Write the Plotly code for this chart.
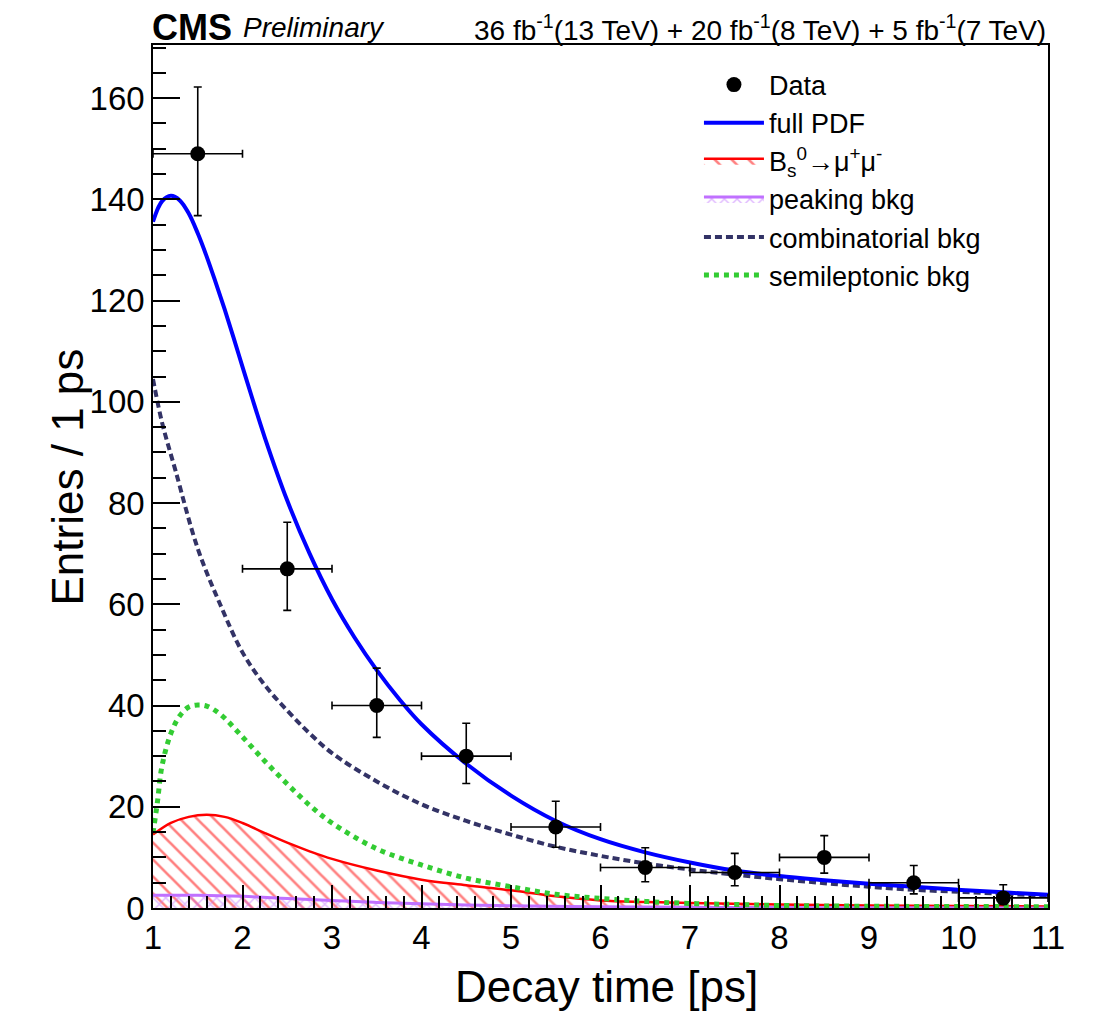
import plotly.graph_objects as go

# ---- data points (bin centres, counts, asymmetric errors) ----
data_x = [1.5, 2.5, 3.5, 4.5, 5.5, 6.5, 7.5, 8.5, 9.5, 10.5]
data_y = [149, 67, 40, 30, 16, 8, 7, 10, 5, 2]
data_err_up = [13.2, 9.2, 7.4, 6.5, 5.1, 3.9, 3.8, 4.3, 3.4, 2.6]
data_err_dn = [12.2, 8.2, 6.3, 5.4, 4.0, 2.8, 2.6, 3.1, 2.2, 1.3]
bin_halfwidth = [0.5] * len(data_x)

# ---- fitted components ----
full_x = [1.0, 1.1, 1.2, 1.3, 1.4, 1.5, 1.6, 1.7, 1.8, 1.9, 2.0, 2.1, 2.25, 2.5, 2.75, 3.0,
          3.25, 3.5, 3.75, 4.0, 4.5, 5.0, 5.5, 6.0, 6.5, 7.0, 7.5, 8.0, 8.5, 9.0, 9.5, 10.0,
          10.5, 11.0]
full_y = [135.6, 139.6, 140.7, 139.8, 137.2, 133.3, 128.7, 123.6, 118.3, 112.7, 106.9, 101.2,
          92.9, 80.5, 70.0, 61.0, 53.5, 47.0, 41.3, 36.3, 28.5, 22.2, 17.2, 13.6, 11.0, 9.0,
          7.4, 6.3, 5.5, 4.8, 4.2, 3.6, 3.1, 2.6]

comb_x = [1.0, 1.1, 1.25, 1.5, 1.75, 2.0, 2.25, 2.5, 2.75, 3.0, 3.5, 4.0, 4.5, 5.0, 5.5,
          6.0, 6.5, 7.0, 7.5, 8.0, 8.5, 9.0, 9.5, 10.0, 10.5, 11.0]
comb_y = [104.5, 96.0, 86.5, 71.0, 60.0, 50.5, 44.0, 39.0, 34.5, 30.6, 25.0, 20.5, 17.2, 14.5,
          12.1, 10.3, 8.8, 7.6, 6.6, 5.7, 4.9, 4.2, 3.6, 3.2, 2.8, 2.4]

semi_x = [1.0, 1.05, 1.1, 1.2, 1.3, 1.4, 1.5, 1.6, 1.75, 2.0, 2.25, 2.5, 2.75, 3.0, 3.5,
          4.0, 4.5, 5.0, 5.5, 6.0, 6.5, 7.0, 7.5, 8.0, 9.0, 10.0, 11.0]
semi_y = [14.8, 21.0, 28.0, 34.5, 38.0, 39.7, 40.1, 39.9, 38.3, 33.8, 29.0, 24.5, 20.3, 16.8,
          11.7, 8.5, 5.9, 4.2, 2.7, 1.9, 1.3, 0.9, 0.7, 0.5, 0.35, 0.3, 0.25]

sig_x = [1.0, 1.2, 1.4, 1.6, 1.8, 2.0, 2.25, 2.5, 2.75, 3.0, 3.5, 4.0, 4.5, 5.0, 5.5,
         6.0, 6.5, 7.0, 8.0, 9.0, 10.0, 11.0]
sig_y = [14.5, 16.8, 18.0, 18.4, 18.0, 16.8, 14.8, 12.9, 11.2, 9.7, 7.4, 5.6, 4.5, 3.5, 2.3,
         1.5, 1.2, 1.0, 0.7, 0.5, 0.4, 0.3]

peak_x = [1.0, 1.5, 2.0, 2.5, 3.0, 3.5, 4.0, 4.5, 5.0, 6.0, 7.0, 8.0, 9.0, 10.0, 11.0]
peak_y = [2.5, 2.5, 2.3, 1.9, 1.5, 1.1, 0.85, 0.6, 0.45, 0.25, 0.15, 0.1, 0.05, 0.03, 0.02]

x_ticks = [1, 2, 3, 4, 5, 6, 7, 8, 9, 10, 11]
y_ticks = [0, 20, 40, 60, 80, 100, 120, 140, 160]

FONT = "Liberation Sans, Arial, Helvetica, sans-serif"
BLUE = "#0000ff"
NAVY = "#333366"
GREEN = "#33cc33"
RED = "#ff0000"
VIOLET = "#c070ff"

fig = go.Figure()

fig.add_trace(go.Scatter(
    x=sig_x, y=sig_y, mode="lines", line=dict(color=RED, width=2.5, shape="spline"),
    fill="tozeroy", fillcolor="rgba(255,255,255,0)",
    fillpattern=dict(shape="\\", fgcolor=RED, bgcolor="rgba(0,0,0,0)", size=12, solidity=0.22),
    name="B<sub>s</sub><sup>0</sup>→μ<sup>+</sup>μ<sup>-</sup>", legendrank=3))

fig.add_trace(go.Scatter(
    x=peak_x, y=peak_y, mode="lines", line=dict(color=VIOLET, width=3, shape="spline"),
    fill="tozeroy", fillcolor="rgba(255,255,255,0)",
    fillpattern=dict(shape="x", fgcolor=VIOLET, bgcolor="rgba(0,0,0,0)", size=9, solidity=0.3),
    name="peaking bkg", legendrank=4))

fig.add_trace(go.Scatter(
    x=comb_x, y=comb_y, mode="lines",
    line=dict(color=NAVY, width=4, dash="7px,4px", shape="spline"),
    name="combinatorial bkg", legendrank=5))

fig.add_trace(go.Scatter(
    x=semi_x, y=semi_y, mode="lines",
    line=dict(color=GREEN, width=5, dash="5px,5px", shape="spline"),
    name="semileptonic bkg", legendrank=6))

fig.add_trace(go.Scatter(
    x=full_x, y=full_y, mode="lines", line=dict(color=BLUE, width=4, shape="spline"),
    name="full PDF", legendrank=2))

fig.add_trace(go.Scatter(
    x=data_x, y=data_y, mode="markers",
    marker=dict(color="black", size=15),
    error_x=dict(type="data", array=bin_halfwidth, color="black", thickness=1.6, width=4),
    error_y=dict(type="data", symmetric=False, array=data_err_up, arrayminus=data_err_dn,
                 color="black", thickness=1.6, width=4),
    name="Data", legendrank=1))

# page body adds an 8px offset; figure sized to fill the rest of the window
fig.update_layout(
    width=1106, height=1009,
    margin=dict(l=145, r=66, t=37, b=109),
    paper_bgcolor="white", plot_bgcolor="white",
    font=dict(family=FONT, color="black"),
    showlegend=True,
    legend=dict(x=0.61, y=0.982, xanchor="left", yanchor="top",
                font=dict(size=27, family=FONT), bgcolor="rgba(255,255,255,0)",
                borderwidth=0, itemwidth=60, tracegroupgap=0),
)

fig.update_xaxes(
    range=[1, 11], tickvals=x_ticks, ticktext=[str(v) for v in x_ticks],
    ticks="inside", ticklen=23, tickwidth=1.5, tickcolor="black",
    minor=dict(dtick=0.2, ticks="inside", ticklen=12, tickwidth=1.5, tickcolor="black", showgrid=False),
    showline=True, linecolor="black", linewidth=1.5, mirror=True,
    showgrid=False, zeroline=False, tickfont=dict(size=33, family=FONT),
)
fig.update_yaxes(
    range=[0, 170.5], tickvals=y_ticks, ticktext=[str(v) for v in y_ticks],
    ticks="inside", ticklen=27, tickwidth=1.5, tickcolor="black",
    minor=dict(dtick=5, ticks="inside", ticklen=13, tickwidth=1.5, tickcolor="black", showgrid=False),
    showline=True, linecolor="black", linewidth=1.5, mirror=True,
    showgrid=False, zeroline=False, tickfont=dict(size=33, family=FONT),
)

ann = [
    dict(text="Decay time [ps]", x=0.507, y=-0.0915, xref="paper", yref="paper",
         xanchor="center", yanchor="middle", showarrow=False, font=dict(size=44, family=FONT)),
    dict(text="Entries / 1 ps", x=-0.095, y=0.5, xref="paper", yref="paper", textangle=-90,
         xanchor="center", yanchor="middle", showarrow=False, font=dict(size=44, family=FONT)),
    dict(text="<b>CMS</b>", x=-0.003, y=1.02, xref="paper", yref="paper",
         xanchor="left", yanchor="middle", showarrow=False, font=dict(size=36, family=FONT)),
    dict(text="<i>Preliminary</i>", x=0.098, y=1.02, xref="paper", yref="paper",
         xanchor="left", yanchor="middle", showarrow=False, font=dict(size=28, family=FONT)),
    dict(text="36 fb<sup>-1</sup>(13 TeV) + 20 fb<sup>-1</sup>(8 TeV) + 5 fb<sup>-1</sup>(7 TeV)",
         x=1.0, y=1.02, xref="paper", yref="paper",
         xanchor="right", yanchor="middle", showarrow=False, font=dict(size=28, family=FONT)),
]
fig.update_layout(annotations=ann)

fig.write_html("out.html")
